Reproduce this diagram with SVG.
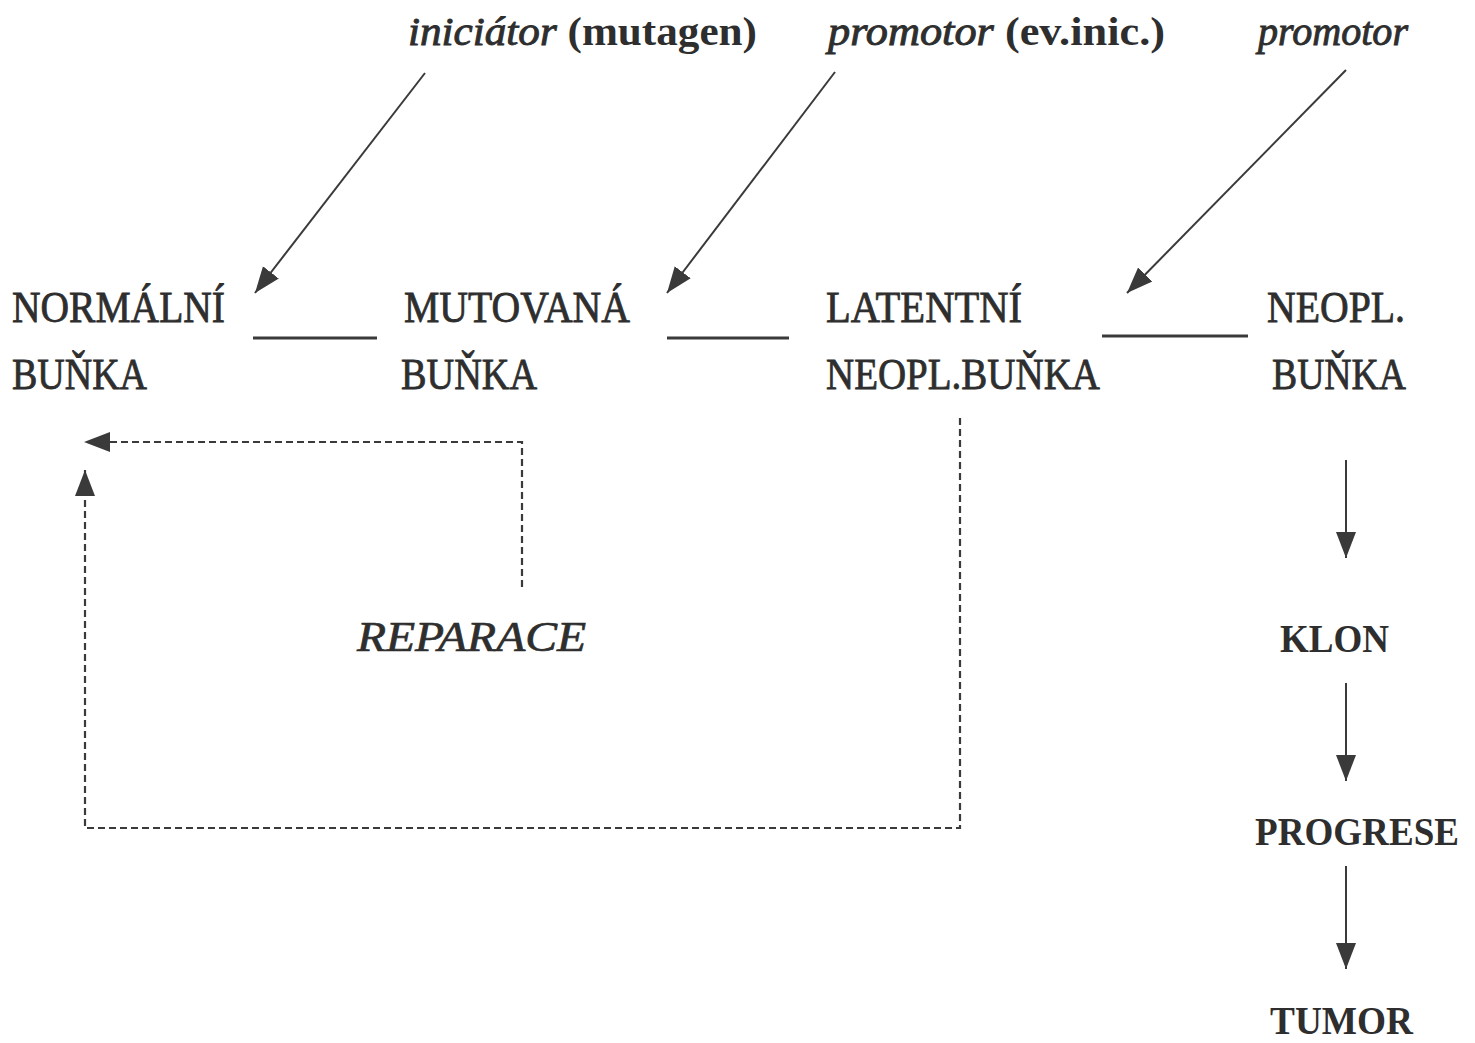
<svg xmlns="http://www.w3.org/2000/svg" width="1475" height="1043" viewBox="0 0 1475 1043">
<style>
text{font-family:"Liberation Serif","Times New Roman",serif;fill:#2e2e2e}
.top{font-size:40px;font-weight:bold}
.it{font-style:italic;font-weight:normal;stroke:#2e2e2e;stroke-width:0.9}
.node{font-size:44px;stroke:#2e2e2e;stroke-width:0.8}
.bold{font-size:40px;font-weight:bold}
.rep{font-size:42px;font-style:italic;stroke:#2e2e2e;stroke-width:0.7}
.ln{stroke:#3a3a3a;stroke-width:2;fill:none}
.hl{stroke:#3a3a3a;stroke-width:3;fill:none}
.dash{stroke:#3a3a3a;stroke-width:2.2;fill:none;stroke-dasharray:7,4}
</style>
<defs>
<marker id="ah" markerUnits="userSpaceOnUse" markerWidth="28" markerHeight="24" refX="26" refY="12" orient="auto">
<path d="M0,2 L26,12 L0,22 Z" fill="#3a3a3a"/>
</marker>
</defs>
<rect width="1475" height="1043" fill="#ffffff"/>
<g id="label-iniciator"><text class="top" x="408" y="45" textLength="349" lengthAdjust="spacingAndGlyphs"><tspan class="it">iniciátor</tspan> (mutagen)</text></g>
<g id="label-promotor1"><text class="top" x="828" y="45" textLength="337" lengthAdjust="spacingAndGlyphs"><tspan class="it">promotor</tspan> (ev.inic.)</text></g>
<g id="label-promotor2"><text class="top it" x="1258" y="45" textLength="150" lengthAdjust="spacingAndGlyphs">promotor</text></g>
<g id="node-normalni">
<text class="node" x="12" y="322" textLength="213" lengthAdjust="spacingAndGlyphs">NORMÁLNÍ</text>
<text class="node" x="12" y="389" textLength="135" lengthAdjust="spacingAndGlyphs">BUŇKA</text>
</g>
<g id="node-mutovana">
<text class="node" x="404" y="322" textLength="226" lengthAdjust="spacingAndGlyphs">MUTOVANÁ</text>
<text class="node" x="401" y="389" textLength="136" lengthAdjust="spacingAndGlyphs">BUŇKA</text>
</g>
<g id="node-latentni">
<text class="node" x="826" y="322" textLength="196" lengthAdjust="spacingAndGlyphs">LATENTNÍ</text>
<text class="node" x="826" y="389" textLength="274" lengthAdjust="spacingAndGlyphs">NEOPL.BUŇKA</text>
</g>
<g id="node-neopl">
<text class="node" x="1267" y="322" textLength="138" lengthAdjust="spacingAndGlyphs">NEOPL.</text>
<text class="node" x="1272" y="389" textLength="134" lengthAdjust="spacingAndGlyphs">BUŇKA</text>
</g>
<g id="node-reparace"><text class="rep" x="357" y="651" textLength="229" lengthAdjust="spacingAndGlyphs">REPARACE</text></g>
<g id="node-klon"><text class="bold" x="1280" y="652" textLength="109" lengthAdjust="spacingAndGlyphs">KLON</text></g>
<g id="node-progrese"><text class="bold" x="1255" y="845" textLength="204" lengthAdjust="spacingAndGlyphs">PROGRESE</text></g>
<g id="node-tumor"><text class="bold" x="1270" y="1034" textLength="143" lengthAdjust="spacingAndGlyphs">TUMOR</text></g>
<g id="connectors">
<line class="hl" x1="253" y1="338" x2="377" y2="338"/>
<line class="hl" x1="667" y1="338" x2="789" y2="338"/>
<line class="hl" x1="1102" y1="336" x2="1248" y2="336"/>
<line class="ln" x1="425" y1="73" x2="255" y2="293" marker-end="url(#ah)"/>
<line class="ln" x1="835" y1="72" x2="667" y2="293" marker-end="url(#ah)"/>
<line class="ln" x1="1346" y1="70" x2="1127" y2="293" marker-end="url(#ah)"/>
<path class="dash" d="M522,587 L522,442 L84,442" marker-end="url(#ah)"/>
<path class="dash" d="M960,418 L960,828 L85,828 L85,470" marker-end="url(#ah)"/>
<line class="ln" x1="1346" y1="460" x2="1346" y2="558" marker-end="url(#ah)"/>
<line class="ln" x1="1346" y1="683" x2="1346" y2="781" marker-end="url(#ah)"/>
<line class="ln" x1="1346" y1="866" x2="1346" y2="969" marker-end="url(#ah)"/>
</g>
</svg>
